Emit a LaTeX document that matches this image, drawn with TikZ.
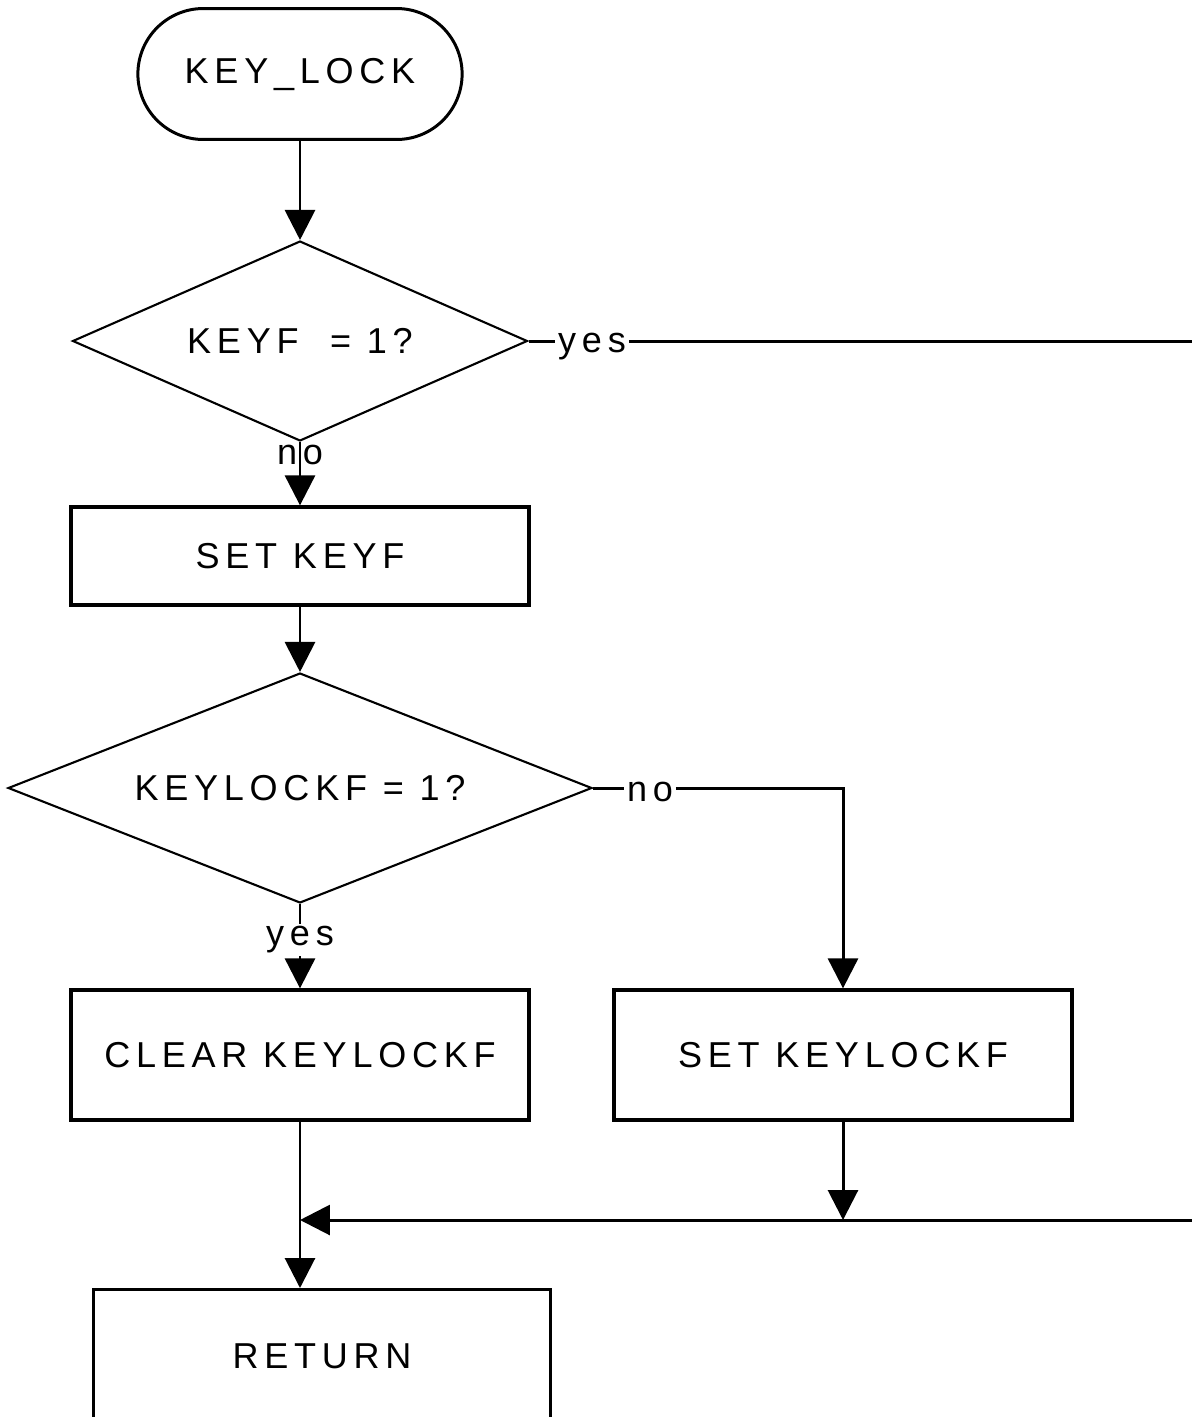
\documentclass[tikz,border=0pt]{standalone}
\usepackage{fontspec}
\newfontfamily\chartfont{Liberation Sans}[LetterSpace=16]
\usetikzlibrary{shapes.geometric,shapes.misc,arrows.meta}

\begin{document}
\begin{tikzpicture}[x=0.02cm, y=-0.02cm,
  font=\chartfont\fontsize{20.5}{24}\selectfont,
  flow/.style={line width=1.7pt, -{Triangle[length=0.6cm,width=0.6cm]}},
  link/.style={line width=1.7pt},
  terminal/.style={rounded rectangle, draw, line width=1.7pt, minimum width=6.72cm, minimum height=2.62cm},
  test/.style={diamond, draw, line width=1.2pt, inner sep=0pt},
  stepbox/.style={draw, line width=1.9pt, minimum width=9.16cm, minimum height=2.6cm, inner sep=0pt},
  lbl/.style={fill=white, inner sep=1.5pt}]
\useasboundingbox (0,0) rectangle (1192,1417);
\clip (0,0) rectangle (1192,1417);

% Start
\node[terminal] (start) at (300,74) {KEY\_LOCK};

% KEYF test
\node[test, aspect=2.3, minimum width=9.1cm, minimum height=4cm] (keyf) at (300,341) {KEYF\ \ = 1?};
\node[lbl] (yes1) at (592,347) {yes};
\node (no1) at (300,455) {no};
\node[stepbox, minimum height=1.96cm] (setkeyf) at (300,556) {SET KEYF};

% KEYLOCKF test
\node[test, aspect=2.54, minimum width=11.68cm, minimum height=4.6cm] (lockf) at (300,788) {KEYLOCKF = 1?};
\node[lbl] (no2) at (650,792) {no};
\node[lbl] (yes2) at (300,940) {yes};
\node[stepbox] (clrlock) at (300,1055) {CLEAR KEYLOCKF};
\node[stepbox] (setlock) at (843,1055) {SET KEYLOCKF};

% Return
\node[stepbox, anchor=north, minimum width=9.14cm, minimum height=2.65cm] (ret) at (322,1288) {RETURN};

\coordinate (outA) at (1200,341);
\coordinate (outB) at (1200,1220);
\coordinate (merge) at (843,1220);
\coordinate (join) at (300,1220);

% Connectors
\draw[flow] (start.south) -- (keyf.north);
\draw[link] (keyf.east) -- (yes1.west |- keyf.east) (yes1.east |- keyf.east) -- (outA);
\draw[flow] (keyf.south) -- (setkeyf.north);
\draw[flow] (setkeyf.south) -- (lockf.north);
\draw[flow] (lockf.east) -- (no2.west |- lockf.east) (no2.east |- lockf.east) -- (setlock.north |- lockf.east) -- (setlock.north);
\draw[flow] (lockf.south) -- (yes2.north) (yes2.south) -- (clrlock.north);
\draw[flow] (clrlock.south) -- (clrlock.south |- ret.north);
\draw[flow] (setlock.south) -- (merge);
\draw[flow] (outB) -- (join);
\end{tikzpicture}
\end{document}
